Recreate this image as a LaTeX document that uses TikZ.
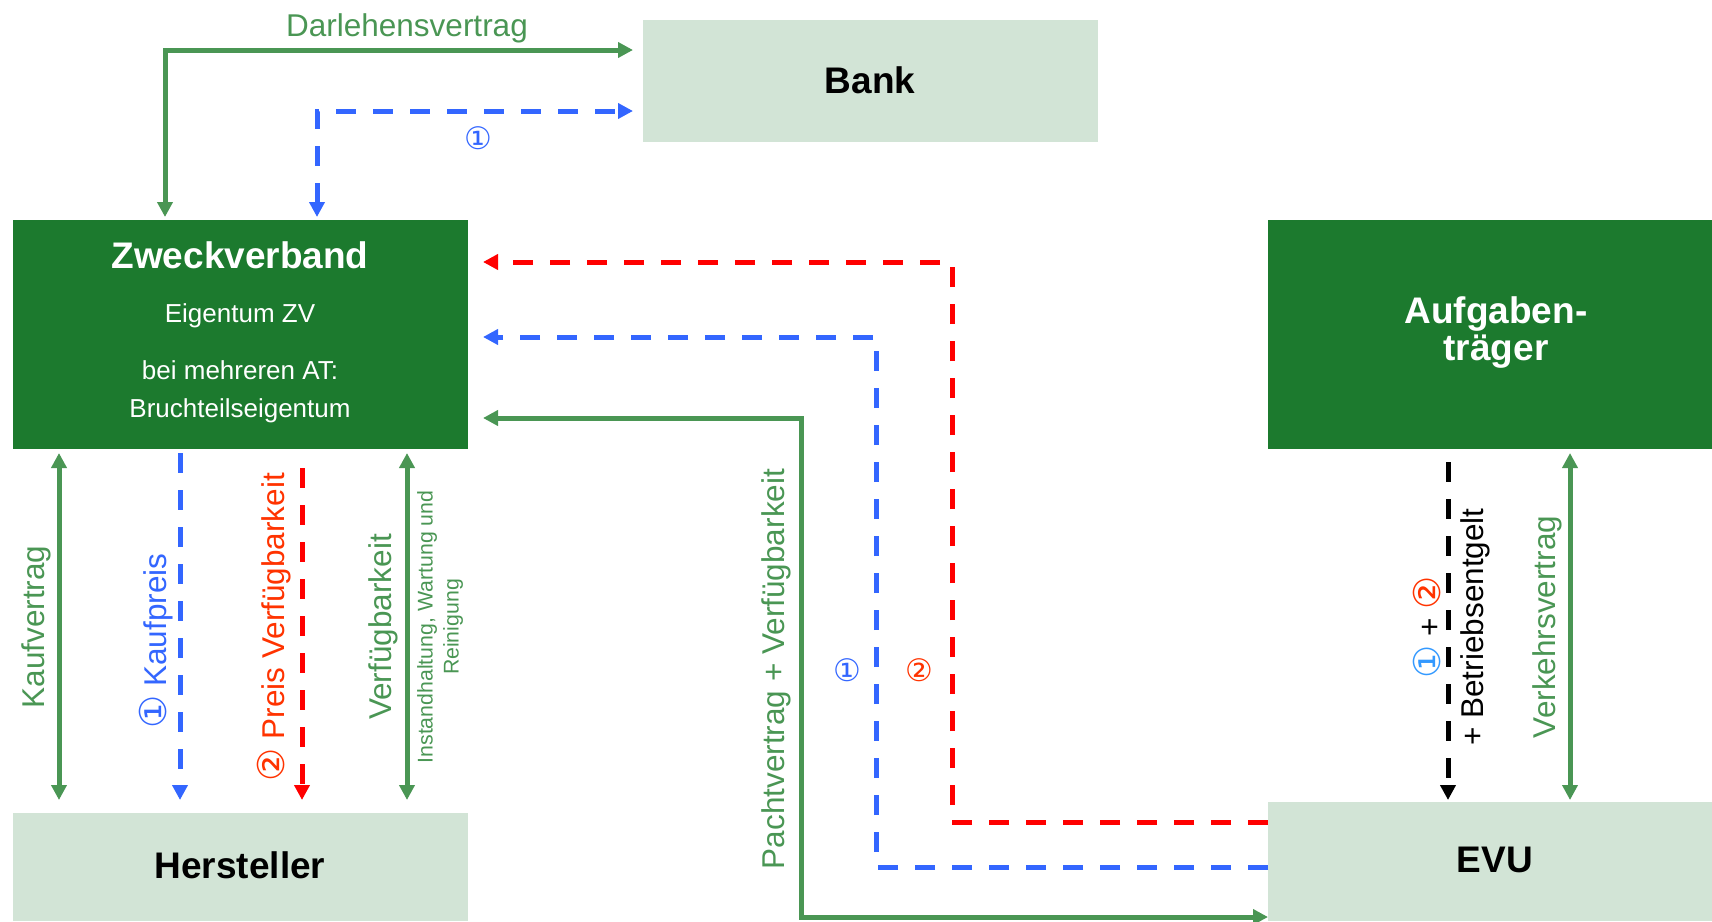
\documentclass[tikz,border=0pt]{standalone}
\usepackage{fontspec}
\setmainfont{Liberation Sans}
\newfontfamily\dejavu{DejaVu Sans}
\usetikzlibrary{arrows.meta,calc}

\definecolor{boxdark}{RGB}{28,122,46}
\definecolor{boxlight}{RGB}{210,228,214}
\definecolor{arrgreen}{RGB}{74,150,84}
\definecolor{arrblue}{RGB}{51,102,255}
\definecolor{arrred}{RGB}{255,0,0}
\definecolor{numred}{RGB}{255,51,0}
\definecolor{numblue}{RGB}{51,153,255}

\newcommand{\cone}{{\dejavu\fontsize{37}{37}\selectfont ①}}
\newcommand{\ctwo}{{\dejavu\fontsize{37}{37}\selectfont ②}}

\begin{document}
\begin{tikzpicture}[x=1pt,y=-1pt,
  darkbox/.style={fill=boxdark,inner sep=0pt,outer sep=0pt},
  lightbox/.style={fill=boxlight,inner sep=0pt,outer sep=0pt},
  boxtitle/.style={inner sep=0pt,font=\fontsize{37}{37}\selectfont\bfseries},
  boxtext/.style={inner sep=0pt,text=white,font=\fontsize{26}{30}\selectfont},
  lbl/.style={inner sep=0pt,font=\fontsize{31.5}{36}\selectfont},
  numlbl/.style={inner sep=0pt,font=\dejavu\fontsize{31}{31}\selectfont},
  smalllbl/.style={inner sep=0pt,font=\fontsize{21.3}{26}\selectfont,align=center},
  conn/.style={line width=5pt,>={Triangle[length=15pt,width=15pt]}},
  gline/.style={conn,draw=arrgreen},
  bdash/.style={conn,draw=arrblue,dash pattern=on 20pt off 17pt},
  rdash/.style={conn,draw=arrred,dash pattern=on 20pt off 17pt},
  kdash/.style={conn,draw=black,dash pattern=on 20pt off 17pt}
]
\useasboundingbox (0,0) rectangle (1712,921);

% boxes
\node[lightbox,minimum width=455pt,minimum height=122pt] (bank) at (870.5,81) {};
\node[darkbox,minimum width=455pt,minimum height=229pt] (zv) at (240.5,334.5) {};
\node[darkbox,minimum width=444pt,minimum height=229pt] (at) at (1490,334.5) {};
\node[lightbox,minimum width=455pt,minimum height=108pt] (hs) at (240.5,867) {};
\node[lightbox,minimum width=444pt,minimum height=119pt] (evu) at (1490,861.5) {};

% box texts
\node[boxtitle] (banktxt) at (870,80) {Bank};
\node[boxtitle,text=white] (zvtxt) at (240,255) {Zweckverband};
\node[boxtext] (zvt1) at (240,316) {Eigentum ZV};
\node[boxtext] (zvt2) at (240,370) {bei mehreren AT:};
\node[boxtext] (zvt3) at (240,410.5) {Bruchteilseigentum};
\node[boxtitle,text=white,align=center,font=\fontsize{37}{37}\selectfont\bfseries] (attxt) at (1496,333) {Aufgaben-\\träger};
\node[boxtitle] (hstxt) at (240,865) {Hersteller};
\node[boxtitle] (evutxt) at (1495,860) {EVU};

% top connectors
\draw[gline,<->] ($(zv.north west)+(152,-3)$) |- ($(bank.west)+(-10,-31)$);
\draw[bdash,<->] ($(zv.north west)+(304,-3)$) |- ($(bank.west)+(-10,30)$);
\node[lbl,text=arrgreen] (darl) at (407,28) {Darlehensvertrag};
\node[numlbl,text=arrblue] (n1a) at (478,138) {①};

% middle connectors
\draw[rdash,->] ($(evu.north west)+(0,20)$) -| ($(zv.north east)+(484,42)$) -- ($(zv.north east)+(15,42)$);
\draw[bdash,->] ($(evu.north west)+(0,65)$) -| ($(zv.north east)+(408,117)$) -- ($(zv.north east)+(15,117)$);
\draw[gline,<->] ($(zv.north east)+(15,198)$) -- ($(zv.north east)+(333,198)$) |- ($(evu.south west)+(0,-4)$);
\node[lbl,text=arrgreen,rotate=90] (pacht) at (776,669) {Pachtvertrag + Verfügbarkeit};
\node[numlbl,text=arrblue] (n1b) at (847,670) {①};
\node[numlbl,text=numred] (n2b) at (919,670) {②};

% left vertical connectors
\draw[gline,<->] ($(zv.south west)+(46,4)$) -- ($(hs.north west)+(46,-13)$);
\draw[bdash,->] ($(zv.south west)+(167,4)$) -- ($(hs.north west)+(167,-13)$);
\draw[rdash,->] ($(zv.south west)+(289,19)$) -- ($(hs.north west)+(289,-13)$);
\draw[gline,<->] ($(zv.south west)+(394,4)$) -- ($(hs.north west)+(394,-13)$);
\node[lbl,text=arrgreen,rotate=90] (kaufv) at (36,627) {Kaufvertrag};
\node[lbl,text=arrblue,rotate=90] (kaufp) at (156,641) {\cone{} Kaufpreis};
\node[lbl,text=numred,rotate=90] (preis) at (274,627) {\ctwo{} Preis Verfügbarkeit};
\node[lbl,text=arrgreen,rotate=90] (verf) at (383,627) {Verfügbarkeit};
\node[smalllbl,text=arrgreen,rotate=90] (inst) at (440,627) {Instandhaltung, Wartung und\\Reinigung};

% right vertical connectors
\draw[kdash,->] ($(at.south west)+(180,13)$) -- ($(evu.north west)+(180,-2)$);
\draw[gline,<->] ($(at.south west)+(302,4)$) -- ($(evu.north west)+(302,-2)$);
\node[lbl,rotate=90,align=center,font=\fontsize{31.5}{43}\selectfont] (betr) at (1452,627) {{\color{numblue}\cone} + {\color{numred}\ctwo}\\+ Betriebsentgelt};
\node[lbl,text=arrgreen,rotate=90] (verk) at (1547,627) {Verkehrsvertrag};
\end{tikzpicture}
\end{document}
